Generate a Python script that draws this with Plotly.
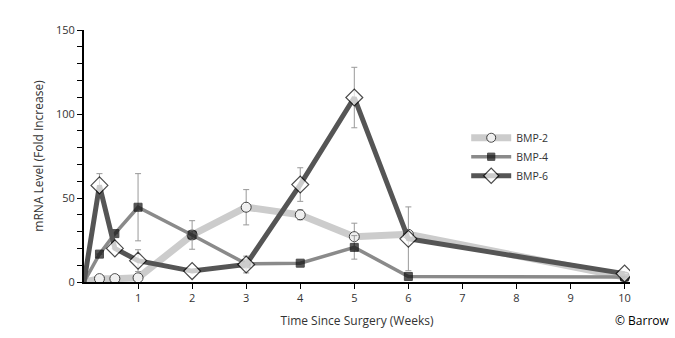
import plotly.graph_objects as go

weeks = [0, 0.286, 0.571, 1, 2, 3, 4, 5, 6, 10]
bmp2 = [0, 2, 2, 2.5, 28, 44.5, 40, 27, 28.4, 3]
bmp2_err = [0, 0, 0, 0, 0, 10.5, 3, 8, 0, 0]
bmp4 = [0, 16.6, 28.8, 44.5, 28, 10.8, 11.2, 20.6, 3.3, 3]
bmp4_err = [0, 0, 0, 20, 8.5, 0, 0, 7, 0, 0]
bmp6 = [0, 57.5, 20, 12.7, 6.5, 10.4, 58, 109.8, 25.7, 5]
bmp6_err = [0, 7, 0, 6.5, 0, 5, 10, 18, 19, 0]
x_ticks = [1, 2, 3, 4, 5, 6, 7, 8, 9, 10]
y_ticks = [0, 50, 100, 150]

FONT = "Open Sans"

def marker_sizes(n, s):
    return [0] + [s] * (n - 1)

fig = go.Figure()

fig.add_trace(go.Scatter(
    x=weeks, y=bmp2, name="BMP-2", mode="lines+markers",
    line=dict(color="#cccccc", width=7),
    marker=dict(symbol="circle", size=marker_sizes(len(weeks), 10), color="white",
                line=dict(color="black", width=1)),
    error_y=dict(type="data", array=bmp2_err, color="#999999", thickness=1, width=3),
))
fig.add_trace(go.Scatter(
    x=weeks, y=bmp4, name="BMP-4", mode="lines+markers",
    line=dict(color="#8a8a8a", width=3.5),
    marker=dict(symbol="square", size=marker_sizes(len(weeks), 8), color="#111111",
                line=dict(color="black", width=1)),
    error_y=dict(type="data", array=bmp4_err, color="#999999", thickness=1, width=3),
))
fig.add_trace(go.Scatter(
    x=weeks, y=bmp6, name="BMP-6", mode="lines+markers",
    line=dict(color="#555555", width=5),
    marker=dict(symbol="diamond", size=marker_sizes(len(weeks), 13), color="white",
                line=dict(color="black", width=1.2)),
    error_y=dict(type="data", array=bmp6_err, color="#999999", thickness=1, width=3),
))

fig.update_layout(
    width=675, height=338,
    margin=dict(l=84, r=45, t=30, b=53),
    paper_bgcolor="white", plot_bgcolor="white",
    font=dict(family=FONT, size=11, color="#333333"),
    showlegend=True,
    legend=dict(x=0.70, y=0.63, xanchor="left", yanchor="top",
                bgcolor="rgba(0,0,0,0)", font=dict(size=10.5, color="#333333"),
                itemwidth=40, tracegroupgap=0),
    xaxis=dict(
        range=[0, 10.1], tickvals=x_ticks, ticktext=[str(t) for t in x_ticks],
        showgrid=False, zeroline=False, showline=True, linecolor="black", linewidth=2,
        ticks="outside", ticklen=5, tickcolor="black", tickwidth=1,
        title=dict(text="Time Since Surgery (Weeks)", font=dict(size=12, color="#333333"), standoff=12),
    ),
    yaxis=dict(
        range=[0, 150], tickvals=y_ticks, ticktext=[str(t) for t in y_ticks],
        showgrid=False, zeroline=False, showline=True, linecolor="black", linewidth=2,
        ticks="outside", ticklen=5, tickcolor="black", tickwidth=1,
        minor=dict(dtick=10, ticks="outside", ticklen=5, tickcolor="black", tickwidth=1, showgrid=False),
        title=dict(text="mRNA Level (Fold Increase)", font=dict(size=12, color="#333333"), standoff=10),
    ),
    annotations=[dict(text="© Barrow", x=1.077, y=-0.153, xref="paper", yref="paper",
                      xanchor="right", yanchor="middle", showarrow=False,
                      font=dict(family=FONT, size=12, color="black"))],
)

fig.write_html("out.html")
